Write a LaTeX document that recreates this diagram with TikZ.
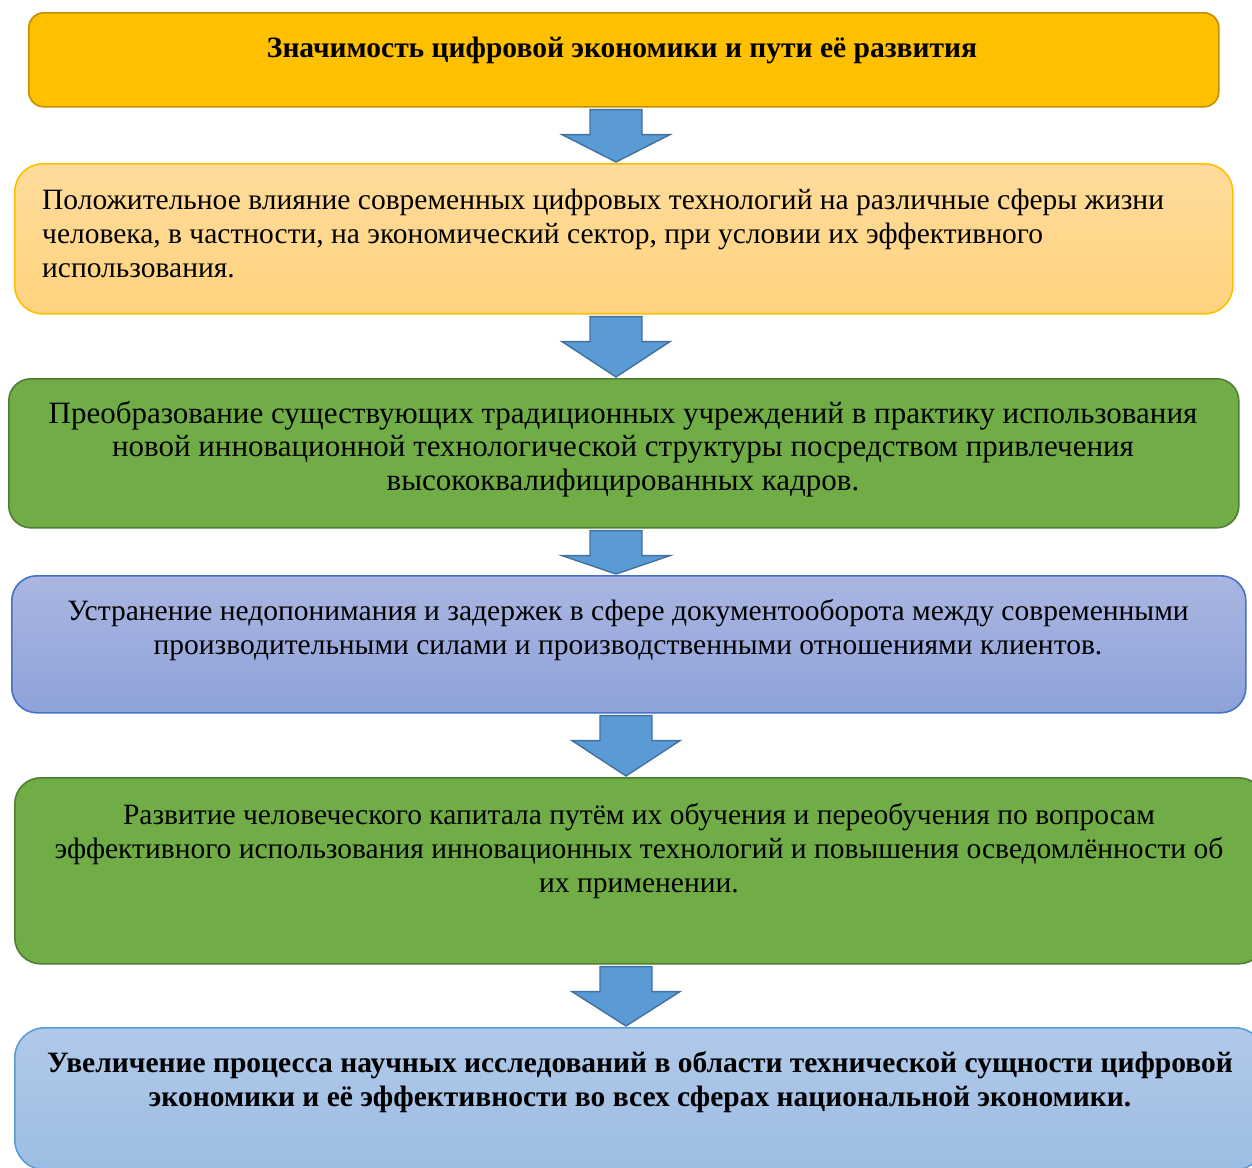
\documentclass[tikz,border=0pt]{standalone}
\usepackage{fontspec}
\setmainfont{Liberation Serif}
\usetikzlibrary{calc}
\definecolor{gold}{HTML}{FFC000}
\definecolor{goldb}{HTML}{C09000}
\definecolor{lorT}{HTML}{FFDC9C}
\definecolor{lorB}{HTML}{FFD37E}
\definecolor{grn}{HTML}{70AD47}
\definecolor{grnb}{HTML}{507E32}
\definecolor{lavT}{HTML}{AAB6E1}
\definecolor{lavB}{HTML}{8EA2D9}
\definecolor{lavb}{HTML}{4472C4}
\definecolor{lbT}{HTML}{B1C9E9}
\definecolor{lbB}{HTML}{9CBDE3}
\definecolor{lbb}{HTML}{5B9BD5}
\definecolor{arrf}{HTML}{5B9BD5}
\definecolor{arrb}{HTML}{41719C}
\tikzset{
  box/.style={draw, line width=1.6pt, inner sep=0pt, anchor=north west},
  txt/.style={inner sep=0pt, font=\fontsize{29.5}{34}\selectfont, align=center},
  arr/.style={draw=arrb, fill=arrf, line width=1.4pt, line join=miter},
}
\newcommand\dnarrow[2]{%
  \draw[arr] let \p1=(#1), \p2=(#2) in
    ($(\x1-26pt,\y1)+(0,-2pt)$) -- ($(\x1+26pt,\y1)+(0,-2pt)$) -- ($(\x1+26pt,\y1)+(0,-27pt)$)
    -- ($(\x1+54pt,\y1)+(0,-27pt)$) -- ($(\x2,\y2)+(0,1pt)$) -- ($(\x1-54pt,\y1)+(0,-27pt)$)
    -- ($(\x1-26pt,\y1)+(0,-27pt)$) -- cycle;}
\begin{document}
\begin{tikzpicture}[x=1pt,y=-1pt]
\useasboundingbox (0,0) rectangle (1252,1167);
% boxes
\node[box, draw=goldb, fill=gold, rounded corners=15pt, minimum width=1190pt, minimum height=94pt] (b1) at (28,12) {};
\node[box, draw=gold, top color=lorT, bottom color=lorB, rounded corners=28pt, minimum width=1218pt, minimum height=150pt] (b2) at (14,163) {};
\node[box, draw=grnb, fill=grn, rounded corners=22pt, minimum width=1230pt, minimum height=149pt] (b3) at (8,378) {};
\node[box, draw=lavb, top color=lavT, bottom color=lavB, rounded corners=25pt, minimum width=1234pt, minimum height=137pt] (b4) at (11,575) {};
\node[box, draw=grnb, fill=grn, rounded corners=26pt, minimum width=1250pt, minimum height=186pt] (b5) at (14,777) {};
\node[box, draw=lbb, top color=lbT, bottom color=lbB, rounded corners=30pt, minimum width=1250pt, minimum height=142pt] (b6) at (14,1027) {};
% texts
\node[txt, font=\fontsize{29.5}{34}\selectfont\bfseries] (t1) at (622,50) {Значимость цифровой экономики и пути её развития};
\node[txt, align=left, anchor=west] (t2) at (42,233) {Положительное влияние современных цифровых технологий на различные сферы жизни\\человека, в частности, на экономический сектор, при условии их эффективного\\использования.};
\node[txt, font=\fontsize{31}{33.5}\selectfont] (t3) at (623,449) {Преобразование существующих традиционных учреждений в практику использования\\новой инновационной технологической структуры посредством привлечения\\высококвалифицированных кадров.};
\node[txt] (t4) at (628,630) {Устранение недопонимания и задержек в сфере документооборота между современными\\производительными силами и производственными отношениями клиентов.};
\node[txt] (t5) at (639,851) {Развитие человеческого капитала путём их обучения и переобучения по вопросам\\эффективного использования инновационных технологий и повышения осведомлённости об\\их применении.};
\node[txt, font=\fontsize{29.5}{34}\selectfont\bfseries] (t6) at (640,1082) {Увеличение процесса научных исследований в области технической сущности цифровой\\экономики и её эффективности во всех сферах национальной экономики.};
% arrows
\coordinate (xa) at (616,0);
\coordinate (xb) at (626,0);
\dnarrow{b1.south -| xa}{b2.north -| xa}
\dnarrow{b2.south -| xa}{b3.north -| xa}
\dnarrow{b3.south -| xa}{b4.north -| xa}
\dnarrow{b4.south -| xb}{b5.north -| xb}
\dnarrow{b5.south -| xb}{b6.north -| xb}
\end{tikzpicture}
\end{document}
